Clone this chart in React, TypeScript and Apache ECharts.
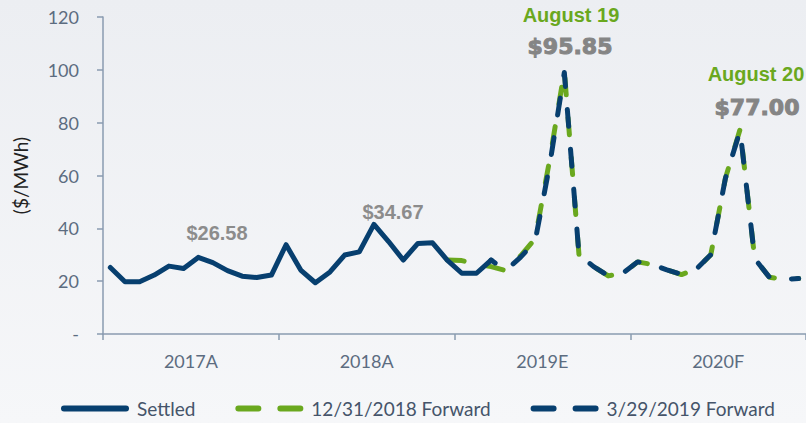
import React, { useEffect, useRef } from "react";
import * as echarts from "echarts";

const months: string[] = [];
["2017", "2018", "2019", "2020"].forEach((y) => {
  ["Jan", "Feb", "Mar", "Apr", "May", "Jun", "Jul", "Aug", "Sep", "Oct", "Nov", "Dec"].forEach((m) =>
    months.push(m + " " + y)
  );
});

const yearLabels = ["2017A", "2018A", "2019E", "2020F"];

// Settled: Jan 2017 - Mar 2019
const settled = [
  25.2, 19.8, 19.8, 22.3, 25.7, 24.8, 29.0, 27.0, 24.0, 21.9, 21.4, 22.3,
  33.8, 24.2, 19.4, 23.5, 29.9, 31.1, 41.5, 35.0, 28.0, 34.3, 34.5, 28.0,
  23.0, 23.0, 28.0,
];

// 12/31/2018 Forward: Dec 2018 - Dec 2020
const fwd1231 = [
  28.0,
  27.8, 26.5, 25.5, 24.0, 29.5, 36.0, 66.0, 99.5, 30.0, 25.5, 22.0, 23.0,
  27.3, 26.3, 24.3, 22.5, 24.5, 30.0, 59.0, 77.5, 28.5, 21.5, 20.7, 21.0,
];

// 3/29/2019 Forward: Mar 2019 - Dec 2020
const fwd0329 = [
  28.0, 24.0, 29.0, 35.0, 64.0, 99.0, 30.0, 25.5, 22.0, 23.0,
  27.3, 26.3, 24.3, 22.5, 24.5, 30.0, 59.0, 77.0, 28.5, 21.5, 20.7, 21.0,
];

const seriesNames = ["Settled", "12/31/2018 Forward", "3/29/2019 Forward"];

function pad(arr: number[], startIndex: number): (number | null)[] {
  const out: (number | null)[] = months.map(() => null);
  arr.forEach((v, i) => (out[startIndex + i] = v));
  return out;
}

const NAVY = "#073f6f";
const GREEN = "#6aa81e";
const AXIS = "#8a9bb0";
const LABEL = "#5c6c80";

const SOLID_ICON = "path://M3,0 H65 A3,3 0 0 1 65,6 H3 A3,3 0 0 1 3,0 Z";
const DASH_ICON =
  "path://M3,0 H23 A3,3 0 0 1 23,6 H3 A3,3 0 0 1 3,0 Z M45,0 H65 A3,3 0 0 1 65,6 H45 A3,3 0 0 1 45,0 Z";

export default function App() {
  const ref = useRef<HTMLDivElement>(null);
  useEffect(() => {
    if (!ref.current) return;
    const chart = echarts.init(ref.current, null, { renderer: "svg" });
    chart.setOption({
      animation: false,
      backgroundColor: {
        type: "linear",
        x: 0,
        y: 0,
        x2: 0,
        y2: 1,
        colorStops: [
          { offset: 0, color: "#eceef2" },
          { offset: 1, color: "#f6f7f9" },
        ],
      },
      grid: { left: 103, top: 17, width: 706, height: 317, containLabel: false },
      legend: {
        bottom: 0,
        left: 56,
        itemWidth: 68,
        itemHeight: 6,
        itemGap: 40,
        textStyle: {
          fontFamily: "Lato",
          fontSize: 19,
          color: "#45546a",
          padding: [0, 0, 0, 3],
        },
        data: [
          { name: seriesNames[0], icon: SOLID_ICON, itemStyle: { color: NAVY } },
          { name: seriesNames[1], icon: DASH_ICON, itemStyle: { color: GREEN } },
          { name: seriesNames[2], icon: DASH_ICON, itemStyle: { color: NAVY } },
        ],
      },
      xAxis: [
        {
          type: "category",
          data: months,
          boundaryGap: true,
          show: false,
        },
        {
          type: "category",
          data: yearLabels,
          boundaryGap: true,
          position: "bottom",
          axisLine: { show: true, lineStyle: { color: AXIS, width: 1.5 } },
          axisTick: { show: true, length: 6, lineStyle: { color: AXIS, width: 1.5 } },
          axisLabel: { margin: 18, fontFamily: "Lato", fontSize: 18, color: LABEL },
        },
      ],
      yAxis: {
        type: "value",
        min: 0,
        max: 120,
        interval: 20,
        name: "($/MWh)",
        nameLocation: "middle",
        nameGap: 73,
        nameRotate: 90,
        nameTextStyle: { fontFamily: "Lato", fontSize: 19, color: "#222" },
        axisLine: { show: true, lineStyle: { color: AXIS, width: 1.5 } },
        axisTick: { show: true, length: 6, lineStyle: { color: AXIS, width: 1.5 } },
        splitLine: { show: false },
        axisLabel: {
          margin: 24,
          fontFamily: "Lato",
          fontSize: 18,
          color: LABEL,
          formatter: (v: number) => (v === 0 ? "-" : String(v)),
        },
      },
      series: [
        {
          name: seriesNames[0],
          type: "line",
          xAxisIndex: 0,
          data: pad(settled, 0),
          symbol: "none",
          z: 3,
          lineStyle: { color: NAVY, width: 5, cap: "round", join: "round" },
          itemStyle: { color: NAVY },
        },
        {
          name: seriesNames[1],
          type: "line",
          xAxisIndex: 0,
          data: pad(fwd1231, 23),
          symbol: "none",
          z: 2,
          lineStyle: { color: GREEN, width: 5, type: [17, 23], cap: "round", join: "round" },
          itemStyle: { color: GREEN },
        },
        {
          name: seriesNames[2],
          type: "line",
          xAxisIndex: 0,
          data: pad(fwd0329, 26),
          symbol: "none",
          z: 4,
          lineStyle: {
            color: NAVY,
            width: 5,
            type: [17, 23],
            dashOffset: 12,
            cap: "round",
            join: "round",
          },
          itemStyle: { color: NAVY },
        },
      ],
      graphic: [
        {
          type: "text",
          x: 217,
          y: 233,
          style: {
            text: "$26.58",
            fontFamily: "Liberation Sans",
            fontWeight: "bold",
            fontSize: 20,
            fill: "#8c8c8c",
            textAlign: "center",
            textVerticalAlign: "middle",
          },
        },
        {
          type: "text",
          x: 393,
          y: 212,
          style: {
            text: "$34.67",
            fontFamily: "Liberation Sans",
            fontWeight: "bold",
            fontSize: 20,
            fill: "#8c8c8c",
            textAlign: "center",
            textVerticalAlign: "middle",
          },
        },
        {
          type: "text",
          x: 571,
          y: 15,
          style: {
            text: "August 19",
            fontFamily: "Liberation Sans",
            fontWeight: "bold",
            fontSize: 20,
            fill: GREEN,
            textAlign: "center",
            textVerticalAlign: "middle",
          },
        },
        {
          type: "text",
          x: 570,
          y: 46,
          style: {
            text: "$95.85",
            fontFamily: "DejaVu Sans",
            fontWeight: "bold",
            fontSize: 22,
            fill: "#858585",
            stroke: "#858585",
            lineWidth: 1,
            textAlign: "center",
            textVerticalAlign: "middle",
          },
        },
        {
          type: "text",
          x: 756,
          y: 74,
          style: {
            text: "August 20",
            fontFamily: "Liberation Sans",
            fontWeight: "bold",
            fontSize: 20,
            fill: GREEN,
            textAlign: "center",
            textVerticalAlign: "middle",
          },
        },
        {
          type: "text",
          x: 757,
          y: 107,
          style: {
            text: "$77.00",
            fontFamily: "DejaVu Sans",
            fontWeight: "bold",
            fontSize: 22,
            fill: "#858585",
            stroke: "#858585",
            lineWidth: 1,
            textAlign: "center",
            textVerticalAlign: "middle",
          },
        },
      ],
    });
    return () => chart.dispose();
  }, []);
  return (
    <div
      ref={ref}
      style={{ position: "absolute", left: 0, top: 0, width: 806, height: 423 }}
    />
  );
}
